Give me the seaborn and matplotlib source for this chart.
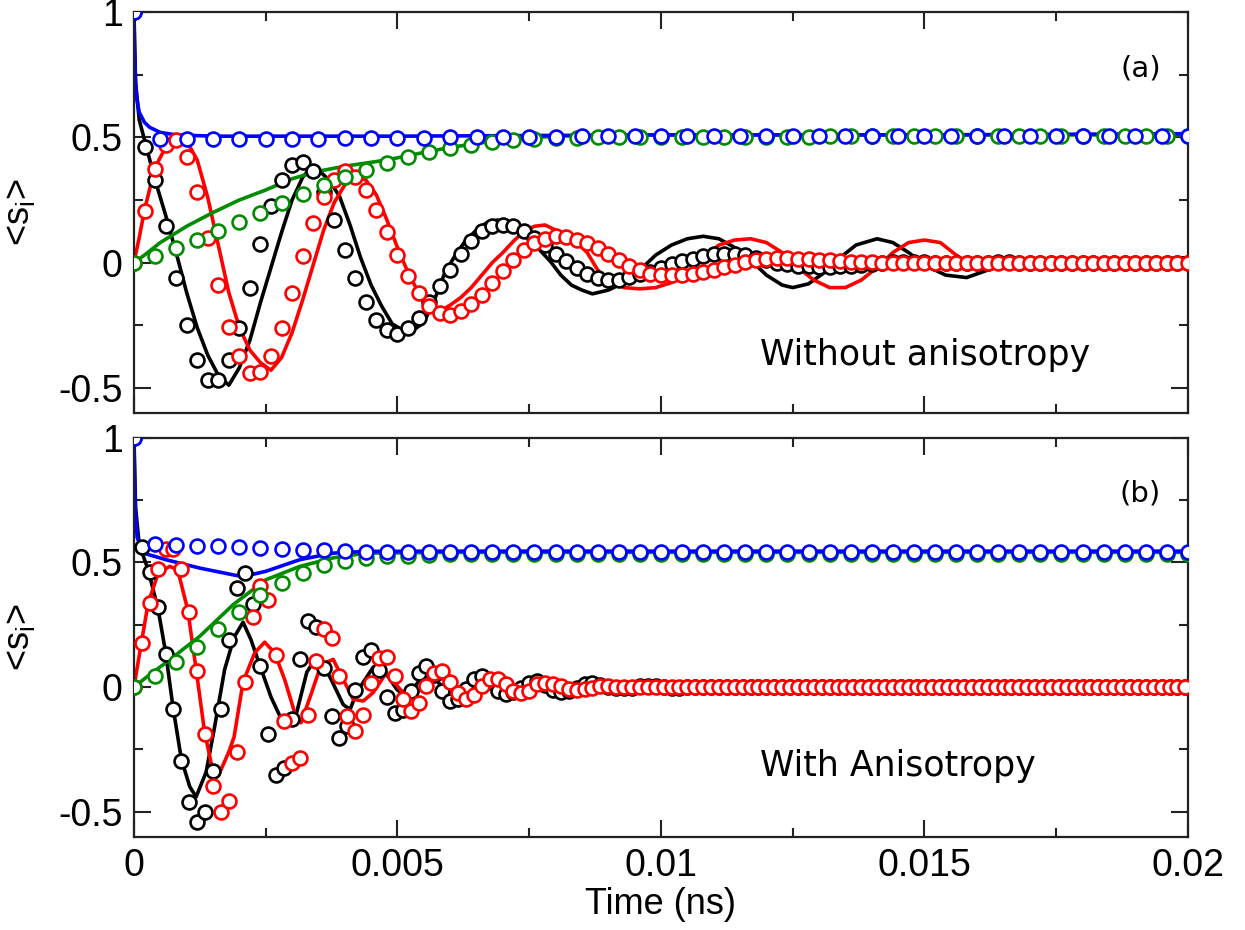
import numpy as np
import matplotlib
matplotlib.use("Agg")
import matplotlib.pyplot as plt
import seaborn as sns
from matplotlib.ticker import MultipleLocator

# ---------------- panel (a): without anisotropy ----------------
# noisy simulation curves (time in ns, <s_i>)
a_black_t = [0, 0.00003, 0.0001, 0.0002, 0.0004, 0.0006, 0.0008, 0.001, 0.0012, 0.0014,
             0.0016, 0.0018, 0.002, 0.0022, 0.0024, 0.0026, 0.0028, 0.003, 0.0032, 0.00335,
             0.0035, 0.0037, 0.0039, 0.0041, 0.0043, 0.0045, 0.0047, 0.0049, 0.0051, 0.0053,
             0.0055, 0.0057, 0.0059, 0.0061, 0.0063, 0.0065, 0.0067, 0.0069, 0.0071, 0.0073,
             0.0075, 0.0077, 0.0079, 0.0081, 0.0083, 0.0085, 0.0087, 0.009, 0.0093, 0.0096,
             0.0099, 0.0102, 0.0105, 0.0108, 0.0111, 0.0114, 0.0117, 0.012, 0.0123, 0.0125,
             0.0128, 0.0131, 0.0134, 0.0137, 0.0141, 0.0144, 0.0147, 0.015, 0.0154, 0.0158,
             0.0162, 0.0166, 0.017, 0.0175, 0.018, 0.0185, 0.019, 0.0195, 0.02]
a_black_v = [1.0, 0.72, 0.57, 0.49, 0.33, 0.19, 0.04, -0.12, -0.26, -0.37,
             -0.45, -0.49, -0.42, -0.31, -0.16, -0.02, 0.12, 0.25, 0.34, 0.38,
             0.37, 0.33, 0.265, 0.15, 0.02, -0.09, -0.174, -0.245, -0.27, -0.27,
             -0.24, -0.15, -0.04, 0.03, 0.09, 0.13, 0.16, 0.17, 0.16, 0.135,
             0.095, 0.05, 0.005, -0.05, -0.09, -0.11, -0.125, -0.11, -0.08, -0.03,
             0.03, 0.07, 0.095, 0.105, 0.095, 0.06, 0.01, -0.05, -0.09, -0.10,
             -0.085, -0.04, 0.02, 0.07, 0.095, 0.08, 0.04, -0.01, -0.05, -0.06,
             -0.03, 0.0, 0.0, -0.005, 0.0, 0.005, 0.01, 0.015, 0.02]

a_red_t = [0, 0.0001, 0.0002, 0.0004, 0.0006, 0.0008, 0.001, 0.0012, 0.0014, 0.0016,
           0.0018, 0.002, 0.0022, 0.0024, 0.0026, 0.0028, 0.003, 0.0032, 0.0034, 0.0036,
           0.0038, 0.004, 0.0042, 0.0044, 0.0046, 0.0048, 0.005, 0.0052, 0.0054, 0.0056,
           0.0058, 0.006, 0.0062, 0.0064, 0.0066, 0.0068, 0.007, 0.0072, 0.0074, 0.0076,
           0.0078, 0.008, 0.0082, 0.0084, 0.0086, 0.0088, 0.009, 0.0093, 0.0096, 0.0099,
           0.0102, 0.0105, 0.0108, 0.0111, 0.0114, 0.0117, 0.012, 0.0123, 0.0126, 0.0129,
           0.0132, 0.0135, 0.0138, 0.0141, 0.0144, 0.0147, 0.015, 0.0153, 0.0156, 0.0159,
           0.0163, 0.0167, 0.017, 0.0175, 0.018, 0.0185, 0.019, 0.0195, 0.02]
a_red_v = [0.0, 0.1, 0.21, 0.38, 0.46, 0.49, 0.485, 0.41, 0.26, 0.07,
           -0.12, -0.26, -0.35, -0.40, -0.43, -0.38, -0.28, -0.15, -0.01, 0.13,
           0.24, 0.31, 0.345, 0.33, 0.27, 0.17, 0.06, -0.04, -0.12, -0.175,
           -0.195, -0.17, -0.14, -0.10, -0.05, 0.0, 0.04, 0.085, 0.125, 0.145,
           0.15, 0.13, 0.105, 0.08, 0.04, -0.03, -0.07, -0.1, -0.105, -0.1,
           -0.08, -0.04, 0.02, 0.07, 0.09, 0.095, 0.08, 0.04, -0.02, -0.07,
           -0.1, -0.1, -0.07, -0.02, 0.04, 0.08, 0.09, 0.08, 0.03, -0.01,
           -0.02, -0.01, -0.01, 0.0, -0.005, 0.0, -0.005, 0.0, -0.005]

a_green_t = [0, 0.0002, 0.0005, 0.001, 0.0015, 0.002, 0.0025, 0.003, 0.0035, 0.004,
             0.0048, 0.0055, 0.006, 0.0068, 0.0073, 0.008, 0.009, 0.01, 0.015, 0.02]
a_green_v = [0.0, 0.03, 0.08, 0.145, 0.2, 0.25, 0.29, 0.335, 0.365, 0.385,
             0.41, 0.44, 0.46, 0.485, 0.495, 0.505, 0.51, 0.51, 0.51, 0.51]

a_blue_t = [0, 0.00001, 0.00003, 0.00005, 0.0001, 0.0002, 0.0003, 0.0005, 0.0008, 0.0015,
            0.005, 0.01, 0.015, 0.02]
a_blue_v = [1.0, 0.85, 0.72, 0.66, 0.6, 0.56, 0.54, 0.52, 0.51, 0.505,
            0.505, 0.51, 0.51, 0.515]

# circles (model), sampled every 0.0002 (black, red), 0.0004 (green), 0.0005 (blue)
a_black_o = [1.0, 0.46, 0.33, 0.145, -0.06, -0.25, -0.39, -0.47, -0.47, -0.39,
             -0.26, -0.10, 0.076, 0.227, 0.33, 0.39, 0.40, 0.366, 0.28, 0.171,
             0.052, -0.061, -0.158, -0.23, -0.27, -0.284, -0.26, -0.22, -0.158, -0.092,
             -0.028, 0.036, 0.085, 0.125, 0.148, 0.152, 0.145, 0.128, 0.10, 0.07,
             0.036, 0.005, -0.021, -0.044, -0.06, -0.071, -0.068, -0.057, -0.047, -0.037,
             -0.02, -0.007, 0.005, 0.015, 0.025, 0.033, 0.036, 0.036, 0.029, 0.02,
             0.01, 0.0, -0.007, -0.012, -0.015, -0.017, -0.017, -0.015, -0.012, -0.008,
             -0.004, 0.0, 0.002, 0.003, 0.003, 0.002, 0.0, 0.0, -0.001, -0.001,
             0.0, 0.0, 0.001, 0.001, 0.0, 0.0, 0.0, 0.0, 0.0, 0.0,
             0.0, 0.0, 0.0, 0.0, 0.0, 0.0, 0.0, 0.0, 0.0, 0.0, 0.0]
a_red_o = [0.0, 0.207, 0.374, 0.47, 0.49, 0.42, 0.28, 0.10, -0.088, -0.257,
           -0.375, -0.442, -0.437, -0.373, -0.26, -0.12, 0.025, 0.158, 0.262, 0.331,
           0.364, 0.341, 0.288, 0.211, 0.121, 0.031, -0.054, -0.123, -0.174, -0.203,
           -0.211, -0.194, -0.166, -0.128, -0.081, -0.035, 0.012, 0.052, 0.078, 0.094,
           0.105, 0.101, 0.092, 0.08, 0.058, 0.033, 0.009, -0.013, -0.031, -0.044,
           -0.051, -0.051, -0.048, -0.044, -0.037, -0.028, -0.017, -0.008, 0.003, 0.009,
           0.015, 0.017, 0.017, 0.015, 0.013, 0.012, 0.009, 0.007, 0.004, 0.003,
           0.001, 0.0, 0.0, -0.001, -0.001, -0.001, 0.0, 0.0, 0.0, 0.0,
           0.0, 0.0, 0.0, 0.0, 0.0, 0.0, 0.0, 0.0, 0.0, 0.0,
           0.0, 0.0, 0.0, 0.0, 0.0, 0.0, 0.0, 0.0, 0.0, 0.0, 0.0]
a_green_o = [0.0, 0.028, 0.058, 0.092, 0.125, 0.162, 0.198, 0.236, 0.274, 0.309,
             0.34, 0.37, 0.397, 0.422, 0.44, 0.457, 0.471, 0.481, 0.488, 0.492,
             0.496, 0.499, 0.5, 0.5, 0.501, 0.501, 0.502, 0.502, 0.502, 0.503,
             0.503, 0.503, 0.503, 0.504, 0.504, 0.504, 0.504, 0.504, 0.505, 0.505,
             0.505, 0.505, 0.505, 0.505, 0.505, 0.505, 0.505, 0.505, 0.505, 0.505, 0.505]
a_blue_o = [1.0, 0.493, 0.493, 0.493, 0.493, 0.494, 0.494, 0.495, 0.496, 0.497,
            0.498, 0.499, 0.5, 0.501, 0.502, 0.503, 0.503, 0.504, 0.504, 0.505,
            0.505, 0.505, 0.505, 0.505, 0.505, 0.505, 0.505, 0.505, 0.505, 0.505,
            0.505, 0.505, 0.505, 0.505, 0.505, 0.505, 0.505, 0.505, 0.505, 0.505, 0.505]

# ---------------- panel (b): with anisotropy ----------------
b_black_t = [0, 0.00003, 0.0001, 0.00027, 0.00046, 0.0006, 0.00074, 0.0009, 0.00106, 0.00118,
             0.00137, 0.00153, 0.00172, 0.0019, 0.00207, 0.00222, 0.0024, 0.0026, 0.0028, 0.0029,
             0.00309, 0.00328, 0.00347, 0.00372, 0.00397, 0.0041, 0.00423, 0.00454, 0.0047, 0.00499,
             0.00517, 0.00543, 0.00562, 0.00593, 0.00619, 0.0065, 0.00682, 0.00713, 0.00745, 0.00783,
             0.00834, 0.00872, 0.0095, 0.0105, 0.012, 0.014, 0.016, 0.0172, 0.0178, 0.0182,
             0.0186, 0.019, 0.02]
b_black_v = [1.0, 0.72, 0.57, 0.47, 0.31, 0.14, -0.08, -0.29, -0.40, -0.44,
             -0.34, -0.16, 0.07, 0.2, 0.26, 0.19, 0.08, -0.04, -0.13, -0.16,
             -0.10, 0.06, 0.12, 0.04, -0.07, -0.09, -0.02, 0.08, 0.08, -0.01,
             -0.04, 0.03, 0.058, -0.02, -0.04, 0.03, 0.004, -0.02, 0.018, -0.009,
             -0.016, 0.004, 0.0, -0.005, 0.0, -0.005, 0.0, -0.01, -0.01, 0.02,
             0.0, -0.005, 0.0]

b_red_t = [0, 0.00014, 0.00027, 0.00046, 0.00068, 0.00083, 0.00102, 0.00118, 0.00134, 0.0015,
           0.0016, 0.0018, 0.0019, 0.00207, 0.00229, 0.00248, 0.00267, 0.00286, 0.00305, 0.00317,
           0.00337, 0.00355, 0.00378, 0.00397, 0.00416, 0.00435, 0.00454, 0.00479, 0.00505, 0.00524,
           0.00549, 0.00574, 0.006, 0.00625, 0.00656, 0.00688, 0.00719, 0.0075, 0.008, 0.009,
           0.011, 0.013, 0.015, 0.0172, 0.0178, 0.018, 0.0183, 0.019, 0.02]
b_red_v = [0.0, 0.177, 0.337, 0.457, 0.484, 0.47, 0.31, 0.07, -0.18, -0.34,
           -0.356, -0.26, -0.2, 0.02, 0.137, 0.18, 0.137, 0.03, -0.103, -0.143,
           -0.023, 0.09, 0.111, 0.031, -0.049, -0.056, -0.022, 0.058, -0.009, -0.049,
           0.004, 0.044, 0.017, -0.036, 0.017, 0.03, -0.009, 0.004, 0.0, 0.0,
           0.0, 0.0, 0.0, 0.0, -0.01, -0.02, -0.01, 0.0, 0.0]

b_green_t = [0, 0.0003, 0.00062, 0.00125, 0.00188, 0.0025, 0.00315, 0.00378, 0.0044, 0.006,
             0.01, 0.02]
b_green_v = [0.0, 0.05, 0.1, 0.204, 0.33, 0.43, 0.484, 0.518, 0.537, 0.54,
             0.54, 0.54]

b_blue_t = [0, 0.00001, 0.00003, 0.00006, 0.00018, 0.00062, 0.00125, 0.00188, 0.00207, 0.0025,
            0.00315, 0.00378, 0.0044, 0.006, 0.01, 0.02]
b_blue_v = [1.0, 0.85, 0.7, 0.6, 0.537, 0.51, 0.477, 0.45, 0.443, 0.464,
            0.511, 0.537, 0.544, 0.545, 0.545, 0.545]

# circles, sampled every 0.00015 (black, red), 0.0004 (green, blue)
b_black_o = [1.0, 0.56, 0.46, 0.32, 0.131, -0.087, -0.296, -0.462, -0.54, -0.50,
             -0.336, -0.087, 0.19, 0.397, 0.458, 0.335, 0.084, -0.188, -0.353, -0.325,
             -0.13, 0.112, 0.264, 0.24, 0.077, -0.116, -0.205, -0.155, -0.012, 0.12,
             0.148, 0.068, -0.04, -0.105, -0.09, -0.016, 0.057, 0.084, 0.05, -0.016,
             -0.056, -0.049, -0.006, 0.031, 0.044, 0.02, -0.016, -0.029, -0.02, -0.003,
             0.017, 0.024, 0.01, -0.012, -0.02, -0.016, -0.003, 0.011, 0.017, 0.01,
             0.002, -0.004, -0.005, -0.002, 0.003, 0.005, 0.003, 0.0, -0.002, -0.002,
             0.0, 0.001, 0.001, 0.0, 0.0, 0.0, 0.0, 0.0, 0.0, 0.0,
             0.0, 0.0, 0.0, 0.0, 0.0, 0.0, 0.0, 0.0, 0.0, 0.0,
             0.0, 0.0, 0.0, 0.0, 0.0, 0.0, 0.0, 0.0, 0.0, 0.0,
             0.0, 0.0, 0.0, 0.0, 0.0, 0.0, 0.0, 0.0, 0.0, 0.0,
             0.0, 0.0, 0.0, 0.0, 0.0, 0.0, 0.0, 0.0, 0.0, 0.0,
             0.0, 0.0, 0.0, 0.0, 0.0, 0.0, 0.0, 0.0, 0.0, 0.0,
             0.0, 0.0, 0.0, 0.0]
b_red_o = [0.0, 0.175, 0.337, 0.473, 0.553, 0.553, 0.473, 0.30, 0.064, -0.19,
           -0.397, -0.50, -0.456, -0.26, 0.02, 0.282, 0.407, 0.35, 0.13, -0.136,
           -0.303, -0.283, -0.11, 0.104, 0.233, 0.197, 0.044, -0.116, -0.176, -0.112,
           0.017, 0.117, 0.12, 0.044, -0.049, -0.096, -0.063, 0.004, 0.055, 0.064,
           0.02, -0.023, -0.049, -0.033, 0.004, 0.031, 0.031, 0.013, -0.016, -0.023,
           -0.016, 0.011, 0.017, 0.011, 0.004, -0.009, -0.012, -0.007, -0.003, 0.004,
           0.003, 0.001, 0.0, -0.001, 0.0, 0.0, 0.0, 0.0, 0.0, 0.0,
           0.0, 0.0, 0.0, 0.0, 0.0, 0.0, 0.0, 0.0, 0.0, 0.0,
           0.0, 0.0, 0.0, 0.0, 0.0, 0.0, 0.0, 0.0, 0.0, 0.0,
           0.0, 0.0, 0.0, 0.0, 0.0, 0.0, 0.0, 0.0, 0.0, 0.0,
           0.0, 0.0, 0.0, 0.0, 0.0, 0.0, 0.0, 0.0, 0.0, 0.0,
           0.0, 0.0, 0.0, 0.0, 0.0, 0.0, 0.0, 0.0, 0.0, 0.0,
           0.0, 0.0, 0.0, 0.0, 0.0, 0.0, 0.0, 0.0, 0.0, 0.0,
           0.0, 0.0, 0.0, 0.0]
b_green_o = [0.0, 0.044, 0.101, 0.16, 0.233, 0.3, 0.368, 0.417, 0.457, 0.488,
             0.504, 0.518, 0.524, 0.527, 0.53, 0.532, 0.533, 0.534, 0.535, 0.535,
             0.535, 0.535, 0.535, 0.535, 0.535, 0.535, 0.535, 0.535, 0.535, 0.535,
             0.535, 0.535, 0.535, 0.535, 0.535, 0.535, 0.535, 0.535, 0.535, 0.535,
             0.535, 0.535, 0.535, 0.535, 0.535, 0.535, 0.535, 0.535, 0.535, 0.535, 0.535]
b_blue_o = [1.0, 0.574, 0.571, 0.567, 0.564, 0.56, 0.557, 0.554, 0.55, 0.548,
            0.544, 0.543, 0.542, 0.541, 0.541, 0.541, 0.541, 0.541, 0.541, 0.541,
            0.541, 0.541, 0.541, 0.541, 0.541, 0.541, 0.541, 0.541, 0.541, 0.541,
            0.541, 0.541, 0.541, 0.541, 0.541, 0.541, 0.541, 0.541, 0.541, 0.541,
            0.541, 0.541, 0.541, 0.541, 0.541, 0.541, 0.541, 0.541, 0.541, 0.541, 0.541]

x_ticks = [0, 0.005, 0.01, 0.015, 0.02]
x_tick_labels = ["0", "0.005", "0.01", "0.015", "0.02"]
y_ticks = [-0.5, 0, 0.5, 1]
y_tick_labels = ["-0.5", "0", "0.5", "1"]

BLACK, RED, GREEN, BLUE = "#000000", "#ff0000", "#008b00", "#0000ff"

sns.set_style("ticks")
plt.rcParams["font.family"] = ["Liberation Sans", "DejaVu Sans"]
plt.rcParams["text.color"] = "black"
plt.rcParams["axes.labelcolor"] = "black"
plt.rcParams["xtick.color"] = "black"
plt.rcParams["ytick.color"] = "black"

fig = plt.figure(figsize=(12.45, 9.3), dpi=100)
ax_a = fig.add_axes([0.1076, 0.5562, 0.8466, 0.4306])
ax_b = fig.add_axes([0.1076, 0.1003, 0.8466, 0.4291])


def draw_line(ax, t, v, c, z):
    sns.lineplot(x=t, y=v, ax=ax, color=c, lw=2.6, estimator=None, sort=False,
                 legend=False, zorder=z)


def draw_circles(ax, v, step, c, z):
    t = np.arange(len(v)) * step
    sns.lineplot(x=t, y=v, ax=ax, color=c, linestyle="none", marker="o",
                 markersize=10, markerfacecolor="white", markeredgecolor=c,
                 markeredgewidth=1.9, estimator=None, sort=False, legend=False,
                 zorder=z)


# panel (a)
draw_line(ax_a, a_black_t, a_black_v, BLACK, 2)
draw_line(ax_a, a_red_t, a_red_v, RED, 2)
draw_line(ax_a, a_green_t, a_green_v, GREEN, 2)
draw_line(ax_a, a_blue_t, a_blue_v, BLUE, 2)
draw_circles(ax_a, a_black_o, 0.0002, BLACK, 3)
draw_circles(ax_a, a_red_o, 0.0002, RED, 3)
draw_circles(ax_a, a_green_o, 0.0004, GREEN, 3)
draw_circles(ax_a, a_blue_o, 0.0005, BLUE, 3)

# panel (b)
draw_line(ax_b, b_black_t, b_black_v, BLACK, 2)
draw_line(ax_b, b_red_t, b_red_v, RED, 2)
draw_line(ax_b, b_green_t, b_green_v, GREEN, 2)
draw_line(ax_b, b_blue_t, b_blue_v, BLUE, 2)
draw_circles(ax_b, b_black_o, 0.00015, BLACK, 3)
draw_circles(ax_b, b_red_o, 0.00015, RED, 3)
draw_circles(ax_b, b_green_o, 0.0004, GREEN, 3)
draw_circles(ax_b, b_blue_o, 0.0004, BLUE, 3)

for ax in (ax_a, ax_b):
    ax.set_xlim(0, 0.02)
    ax.set_ylim(-0.6, 1.0)
    ax.set_xticks(x_ticks)
    ax.set_yticks(y_ticks)
    ax.set_yticklabels(y_tick_labels, fontsize=27)
    ax.xaxis.set_minor_locator(MultipleLocator(0.0025))
    ax.yaxis.set_minor_locator(MultipleLocator(0.25))
    ax.tick_params(which="both", direction="in", top=True, right=True, width=1.5,
                   color="#222222")
    ax.tick_params(which="major", length=12.5, pad=8)
    ax.tick_params(which="minor", length=6.5)
    for s in ax.spines.values():
        s.set_linewidth(1.6)
        s.set_color("#222222")
    ax.set_ylabel("<s$_\\mathregular{i}$>", fontsize=26)
    ax.yaxis.set_label_coords(-0.092, 0.5)

ax_a.set_xticklabels([])
ax_b.set_xticklabels(x_tick_labels, fontsize=27)
ax_b.set_xlabel("Time (ns)", fontsize=26, labelpad=2)

ax_a.text(0.955, 0.86, "(a)", transform=ax_a.transAxes, fontsize=21,
          family="DejaVu Sans", ha="center", va="center")
ax_b.text(0.955, 0.86, "(b)", transform=ax_b.transAxes, fontsize=21,
          family="DejaVu Sans", ha="center", va="center")
ax_a.text(0.594, 0.145, "Without anisotropy", transform=ax_a.transAxes, fontsize=25,
          family="DejaVu Sans", ha="left", va="center")
ax_b.text(0.594, 0.178, "With Anisotropy", transform=ax_b.transAxes, fontsize=25,
          family="DejaVu Sans", ha="left", va="center")

fig.savefig("out.png", dpi=100)
